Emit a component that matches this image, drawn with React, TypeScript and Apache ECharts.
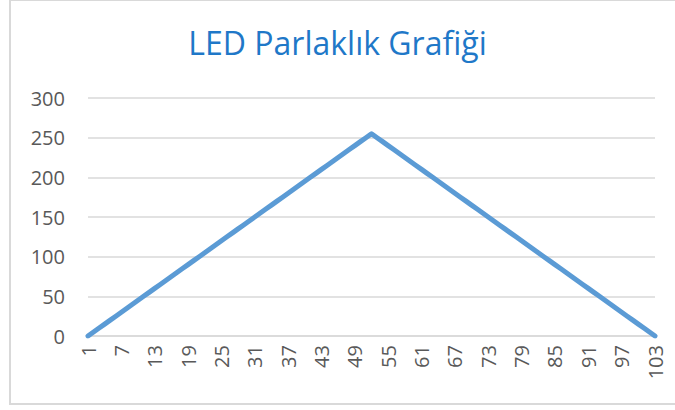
import React, { useEffect, useRef } from "react";
import * as echarts from "echarts";

const categories: string[] = [];
for (let i = 1; i <= 103; i++) categories.push(String(i));

const brightness: number[] = [
  0, 5, 10, 15, 20, 25, 30, 35, 40, 45, 50, 55, 60, 65, 70, 75, 80, 85, 90, 95,
  100, 105, 110, 115, 120, 125, 130, 135, 140, 145, 150, 155, 160, 165, 170, 175,
  180, 185, 190, 195, 200, 205, 210, 215, 220, 225, 230, 235, 240, 245, 250, 255,
  250, 245, 240, 235, 230, 225, 220, 215, 210, 205, 200, 195, 190, 185, 180, 175,
  170, 165, 160, 155, 150, 145, 140, 135, 130, 125, 120, 115, 110, 105, 100, 95,
  90, 85, 80, 75, 70, 65, 60, 55, 50, 45, 40, 35, 30, 25, 20, 15, 10, 5, 0,
];

const titleText = "LED Parlaklık Grafiği";
const yMin = 0;
const yMax = 300;
const yStep = 50;

export default function App() {
  const ref = useRef<HTMLDivElement>(null);
  useEffect(() => {
    document.body.style.margin = "0";
    const chart = echarts.init(ref.current!, null, { renderer: "svg" });
    const font = "'Open Sans', 'Noto Sans', sans-serif";
    chart.setOption({
      animation: false,
      backgroundColor: "#ffffff",
      graphic: [
        {
          type: "rect",
          shape: { x: 10, y: 0, width: 680, height: 404 },
          style: { fill: "none", stroke: "#D9D9D9", lineWidth: 2 },
          silent: true,
        },
      ],
      title: {
        text: titleText,
        left: "center",
        top: 21,
        textStyle: {
          color: "#1F78C8",
          fontFamily: font,
          fontSize: 32,
          fontWeight: "normal",
        },
      },
      grid: { left: 88, right: 20, top: 98, bottom: 74, containLabel: false },
      xAxis: {
        type: "category",
        data: categories,
        boundaryGap: false,
        axisLine: { show: true, lineStyle: { color: "#D9D9D9", width: 1.5 } },
        axisTick: { show: false },
        axisLabel: {
          interval: 5,
          rotate: 90,
          margin: 9,
          color: "#595959",
          fontFamily: font,
          fontSize: 20,
        },
      },
      yAxis: {
        type: "value",
        min: yMin,
        max: yMax,
        interval: yStep,
        axisLine: { show: false },
        axisTick: { show: false },
        splitLine: { lineStyle: { color: "#D9D9D9", width: 1.5 } },
        axisLabel: {
          margin: 23,
          color: "#595959",
          fontFamily: font,
          fontSize: 20,
        },
      },
      series: [
        {
          type: "line",
          data: brightness,
          showSymbol: false,
          symbol: "none",
          lineStyle: { color: "#5B9BD5", width: 5, join: "round", cap: "round" },
        },
      ],
    });
    return () => chart.dispose();
  }, []);
  return <div ref={ref} style={{ width: 675, height: 410 }} />;
}
